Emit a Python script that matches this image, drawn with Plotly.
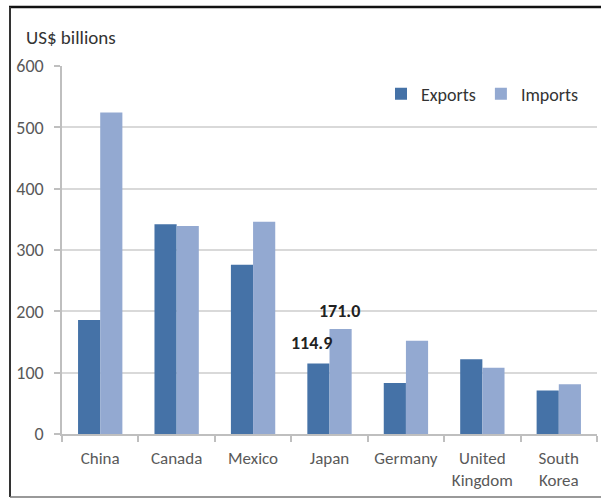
import plotly.graph_objects as go

categories = ["China", "Canada", "Mexico", "Japan", "Germany", "United<br>Kingdom", "South<br>Korea"]
exports = [186, 342, 276, 114.9, 83, 122, 71]
imports = [524, 339, 346, 171.0, 152, 108, 81]
y_ticks = [0, 100, 200, 300, 400, 500, 600]
labelled_idx = 3  # Japan

W, H = 601, 499
L, R, T, B = 62, 4, 66, 65
pw, ph = W - L - R, H - T - B

def px(x):
    return (x - L) / pw

def py(y):
    return (H - B - y) / ph

FONT = "Carlito, Lato, Calibri, sans-serif"
TICKC = "#595959"

fig = go.Figure()
fig.add_trace(go.Bar(name="Exports", x=categories, y=exports,
                     marker=dict(color="#4572A7", line=dict(width=0))))
fig.add_trace(go.Bar(name="Imports", x=categories, y=imports,
                     marker=dict(color="#93A9D1", line=dict(width=0))))

# data labels for Japan
fig.add_annotation(x=categories[labelled_idx], y=exports[labelled_idx], text="<b>%.1f</b>" % exports[labelled_idx],
                   showarrow=False, xshift=-18, yshift=8, yanchor="bottom",
                   font=dict(family=FONT, size=18, color="#222222"))
fig.add_annotation(x=categories[labelled_idx], y=imports[labelled_idx], text="<b>%.1f</b>" % imports[labelled_idx],
                   showarrow=False, xshift=10, yshift=5, yanchor="bottom",
                   font=dict(family=FONT, size=18, color="#222222"))

# outer frame
fig.add_shape(type="line", xref="paper", yref="paper", x0=px(9), x1=px(601), y0=py(7), y1=py(7),
              line=dict(color="#111111", width=2.5))
fig.add_shape(type="line", xref="paper", yref="paper", x0=px(10), x1=px(10), y0=py(7), y1=py(497),
              line=dict(color="#333333", width=2))
fig.add_shape(type="line", xref="paper", yref="paper", x0=px(10), x1=px(601), y0=py(497), y1=py(497),
              line=dict(color="#777777", width=1.5))

fig.update_layout(
    width=W, height=H,
    margin=dict(l=L, r=R, t=T, b=B, autoexpand=False),
    paper_bgcolor="white", plot_bgcolor="white",
    barmode="group", bargap=0.42, bargroupgap=0,
    font=dict(family=FONT, size=17, color=TICKC),
    title=dict(text="US$ billions", x=26 / W, xanchor="left", xref="container",
               y=1 - 37 / H, yanchor="middle", yref="container",
               font=dict(family=FONT, size=19, color="#333333")),
    legend=dict(orientation="h", x=px(584), xanchor="right", y=py(94), yanchor="middle",
                font=dict(family=FONT, size=18, color="#333333"),
                bgcolor="rgba(0,0,0,0)", itemwidth=30, traceorder="normal"),
    showlegend=True,
)
fig.update_yaxes(range=[0, 600], tickvals=y_ticks, showgrid=True, gridcolor="#d9d9d9", gridwidth=1.5,
                 showline=True, linecolor="#bfbfbf", linewidth=1.5,
                 ticks="outside", ticklen=6, tickcolor="#bfbfbf", tickwidth=1.5,
                 ticklabelstandoff=7, zeroline=False, automargin=False,
                 tickfont=dict(family=FONT, size=18, color=TICKC))
fig.update_xaxes(showline=True, linecolor="#bfbfbf", linewidth=1.5,
                 ticks="outside", tickson="boundaries", ticklen=6, tickcolor="#bfbfbf", tickwidth=1.5,
                 ticklabelstandoff=8, tickangle=0, automargin=False,
                 tickfont=dict(family=FONT, size=17, color=TICKC))

fig.write_html("out.html")
